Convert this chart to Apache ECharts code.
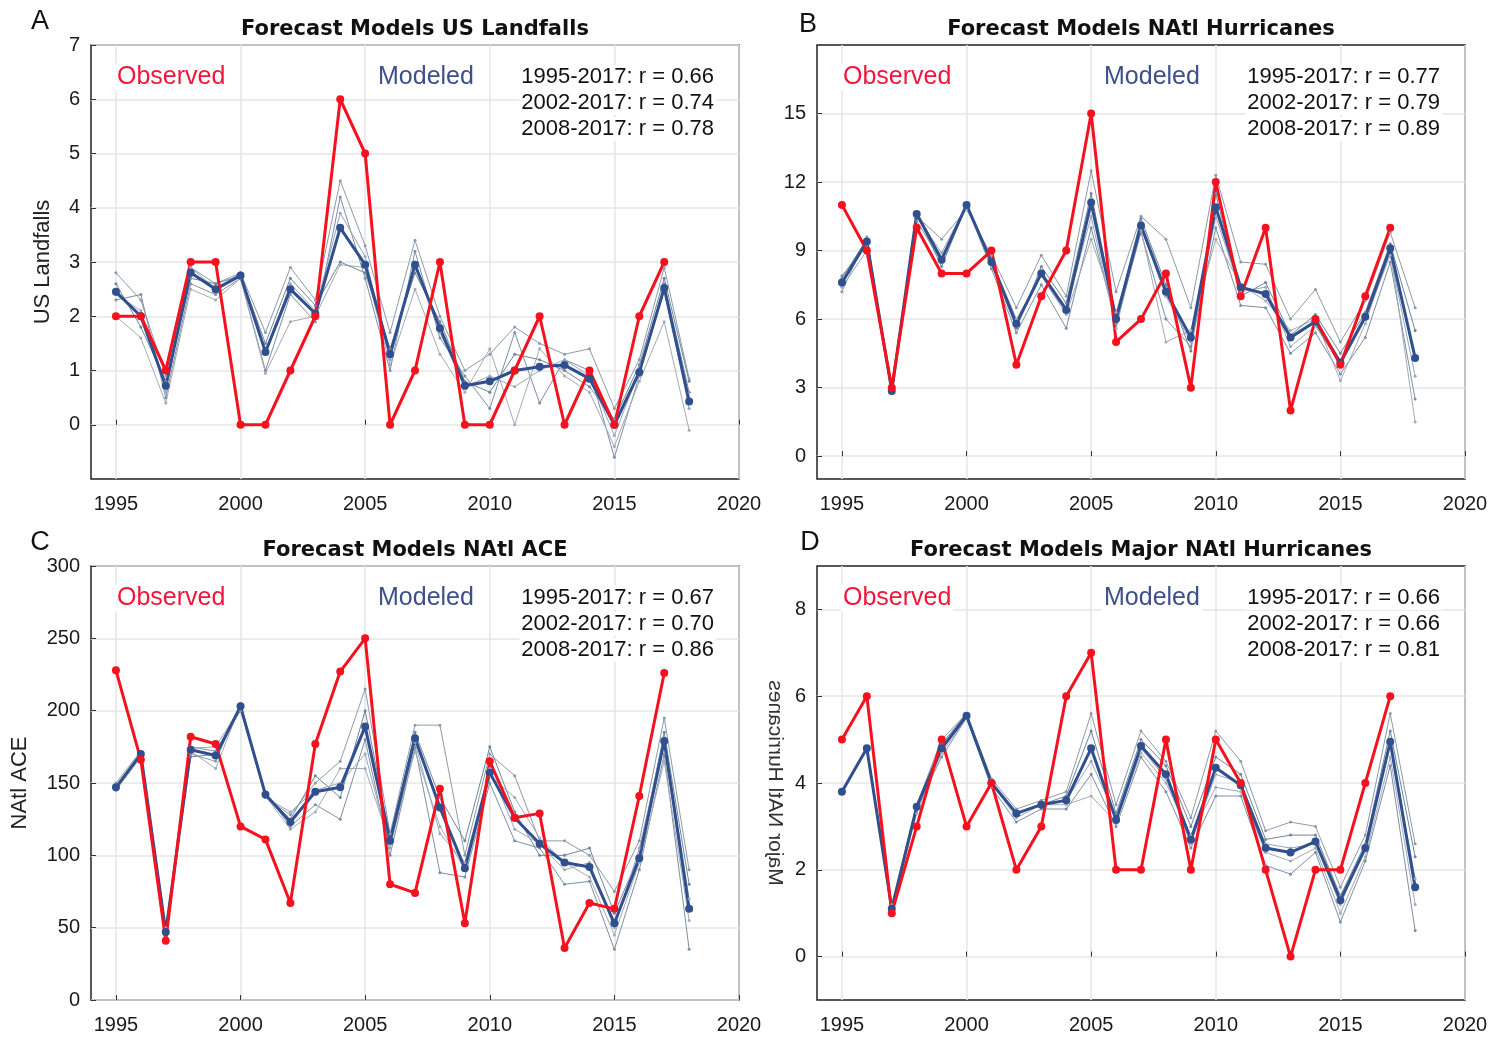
<!DOCTYPE html>
<html>
<head>
<meta charset="utf-8">
<script src="https://cdn.jsdelivr.net/npm/echarts@6/dist/echarts.min.js"></script>
<style>
  html, body { margin: 0; padding: 0; background: #fff; }
  #chart { width: 1507px; height: 1042px; }
</style>
</head>
<body>
<div id="chart"></div>
<script>
// years shared by all four panels (observed stops at 2017, forecast goes to 2018)
const years = [1995, 1996, 1997, 1998, 1999, 2000, 2001, 2002, 2003, 2004, 2005, 2006,
  2007, 2008, 2009, 2010, 2011, 2012, 2013, 2014, 2015, 2016, 2017, 2018];
const xTicks = [1995, 2000, 2005, 2010, 2015, 2020];

// --- A: US landfalls
const obsLandfalls = [2, 2, 1, 3, 3, 0, 0, 1, 2, 6, 5, 0, 1, 3, 0, 0, 1, 2, 0, 1, 0, 2, 3];
const modLandfalls = [2.45, 2.0, 0.72, 2.8, 2.5, 2.75, 1.34, 2.5, 2.05, 3.63, 2.95, 1.3,
  2.95, 1.78, 0.72, 0.8, 1.0, 1.07, 1.1, 0.85, 0.0, 0.97, 2.52, 0.43];
const membersLandfalls = [
  [2.8, 2.3, 0.9, 2.9, 2.6, 2.8, 1.7, 2.9, 2.3, 4.5, 3.3, 1.7, 3.4, 2.0, 1.0, 1.3, 1.8, 1.5, 1.3, 1.4, 0.3, 1.2, 2.9, 0.85],
  [2.3, 2.4, 0.5, 2.6, 2.4, 2.7, 1.0, 2.4, 1.9, 4.2, 2.7, 1.0, 3.2, 1.6, 0.9, 0.3, 1.7, 0.4, 1.2, 1.0, -0.6, 0.9, 2.6, 0.6],
  [2.0, 1.6, 0.4, 2.5, 2.3, 2.7, 0.95, 1.9, 2.0, 2.95, 2.9, 1.1, 2.5, 1.3, 0.6, 1.4, 0.0, 1.4, 0.9, 0.6, -0.4, 0.8, 1.9, -0.1],
  [2.6, 1.8, 0.8, 2.7, 2.6, 2.75, 1.5, 2.7, 2.2, 3.0, 2.8, 1.4, 2.8, 1.9, 0.8, 0.6, 1.3, 1.2, 1.0, 0.7, 0.1, 1.1, 2.7, 0.8],
  [2.4, 2.1, 0.6, 2.9, 2.5, 2.8, 1.3, 2.6, 2.1, 3.9, 3.1, 1.2, 3.0, 1.7, 0.7, 0.9, 0.7, 1.0, 1.2, 0.9, -0.2, 1.0, 2.5, 0.3]
];
const ticksLandfalls = [0, 1, 2, 3, 4, 5, 6, 7];
const rLandfalls = ['1995-2017: r = 0.66', '2002-2017: r = 0.74', '2008-2017: r = 0.78'];

// --- B: North Atlantic hurricanes
const obsHurricanes = [11, 9, 3, 10, 8, 8, 9, 4, 7, 9, 15, 5, 6, 8, 3, 12, 7, 10, 2, 6, 4, 7, 10];
const modHurricanes = [7.6, 9.4, 2.85, 10.6, 8.6, 11.0, 8.5, 5.8, 8.0, 6.4, 11.1, 6.0,
  10.1, 7.2, 5.2, 10.9, 7.4, 7.1, 5.2, 5.9, 4.1, 6.1, 9.1, 4.3];
const membersHurricanes = [
  [7.2, 9.6, 2.9, 10.5, 9.5, 10.8, 8.8, 6.5, 8.8, 7.0, 12.5, 7.2, 10.5, 9.5, 6.5, 12.3, 8.5, 8.4, 6.0, 7.3, 5.0, 6.8, 9.8, 6.5],
  [7.9, 9.2, 2.8, 10.3, 8.5, 11.0, 8.2, 5.4, 7.5, 5.6, 10.0, 5.8, 9.8, 6.0, 4.8, 10.0, 6.6, 6.5, 4.5, 5.4, 3.6, 5.2, 8.5, 2.5],
  [7.5, 9.3, 2.9, 10.7, 8.7, 11.0, 8.6, 6.0, 7.9, 6.2, 9.5, 6.3, 9.9, 5.0, 5.5, 9.5, 7.5, 6.8, 5.5, 6.0, 3.3, 5.8, 9.0, 1.5],
  [7.8, 9.5, 2.8, 10.6, 8.3, 11.0, 8.4, 5.6, 8.3, 6.7, 11.5, 6.1, 10.4, 7.5, 4.6, 11.5, 7.0, 7.6, 5.3, 6.2, 4.5, 6.3, 9.3, 5.5],
  [7.4, 9.0, 2.9, 10.5, 8.9, 11.0, 8.5, 5.7, 8.0, 6.5, 10.5, 5.6, 10.0, 7.0, 5.0, 10.5, 7.2, 7.4, 4.8, 5.7, 4.0, 6.0, 8.8, 3.5]
];
const ticksHurricanes = [0, 3, 6, 9, 12, 15];
const rHurricanes = ['1995-2017: r = 0.77', '2002-2017: r = 0.79', '2008-2017: r = 0.89'];

// --- C: North Atlantic ACE
const obsACE = [228, 166, 41, 182, 177, 120, 111, 67, 177, 227, 250, 80, 74, 146, 53, 165, 126, 129, 36, 67, 63, 141, 226];
const modACE = [147, 170, 47, 173, 169, 203, 142, 123, 144, 147, 189, 110,
  181, 133, 91, 157, 126, 108, 95, 92, 53, 98, 179, 63];
const membersACE = [
  [150, 172, 50, 170, 165, 205, 140, 128, 150, 165, 215, 115, 190, 190, 100, 170, 155, 110, 110, 100, 75, 110, 195, 90],
  [145, 168, 45, 175, 172, 200, 143, 120, 135, 125, 180, 100, 175, 88, 85, 150, 110, 105, 80, 82, 35, 90, 170, 35],
  [148, 170, 48, 172, 160, 204, 141, 118, 130, 160, 160, 108, 172, 120, 90, 155, 140, 112, 95, 85, 45, 95, 165, 55],
  [146, 169, 46, 168, 170, 203, 142, 125, 155, 140, 200, 112, 185, 140, 110, 175, 130, 100, 100, 105, 60, 100, 185, 80],
  [147, 171, 47, 174, 175, 202, 140, 130, 145, 150, 170, 105, 178, 115, 95, 160, 118, 108, 90, 95, 50, 105, 180, 70]
];
const ticksACE = [0, 50, 100, 150, 200, 250, 300];
const rACE = ['1995-2017: r = 0.67', '2002-2017: r = 0.70', '2008-2017: r = 0.86'];

// --- D: major North Atlantic hurricanes
const obsMajor = [5, 6, 1, 3, 5, 3, 4, 2, 3, 6, 7, 2, 2, 5, 2, 5, 4, 2, 0, 2, 2, 4, 6];
const modMajor = [3.8, 4.8, 1.1, 3.45, 4.8, 5.55, 4.0, 3.3, 3.5, 3.6, 4.8, 3.15,
  4.85, 4.2, 2.7, 4.35, 3.95, 2.5, 2.4, 2.65, 1.3, 2.5, 4.95, 1.6];
const membersMajor = [
  [3.8, 4.8, 1.2, 3.5, 5.0, 5.6, 4.1, 3.4, 3.6, 3.8, 5.6, 3.5, 5.2, 4.5, 3.2, 5.2, 4.5, 2.9, 3.1, 3.0, 1.6, 2.8, 5.6, 2.6],
  [3.8, 4.8, 1.0, 3.4, 4.6, 5.5, 3.9, 3.1, 3.4, 3.4, 4.2, 3.0, 4.6, 3.8, 2.5, 3.7, 3.7, 2.1, 1.9, 2.4, 0.8, 2.2, 4.4, 0.6],
  [3.8, 4.8, 1.1, 3.3, 4.7, 5.5, 4.0, 3.2, 3.5, 3.5, 3.7, 3.1, 4.7, 4.0, 2.8, 3.9, 3.8, 2.4, 2.2, 2.5, 1.0, 2.3, 4.6, 1.2],
  [3.8, 4.8, 1.1, 3.5, 4.9, 5.6, 4.0, 3.3, 3.5, 3.7, 5.2, 3.3, 5.0, 4.4, 3.0, 4.6, 4.2, 2.7, 2.8, 2.8, 1.4, 2.6, 5.2, 2.3],
  [3.8, 4.8, 1.1, 3.4, 4.8, 5.5, 4.0, 3.3, 3.5, 3.6, 4.5, 3.2, 4.8, 4.1, 2.6, 4.2, 4.0, 2.6, 2.5, 2.6, 1.2, 2.5, 4.9, 1.8]
];
const ticksMajor = [0, 2, 4, 6, 8];
const rMajor = ['1995-2017: r = 0.66', '2002-2017: r = 0.66', '2008-2017: r = 0.81'];

const panels = [
  { letter: 'A', title: 'Forecast Models US Landfalls', obs: obsLandfalls, mod: modLandfalls, members: membersLandfalls, min: -1, max: 7, ticks: ticksLandfalls, r: rLandfalls, yName: 'US Landfalls', nameGap: 37 },
  { letter: 'B', title: 'Forecast Models NAtl Hurricanes', obs: obsHurricanes, mod: modHurricanes, members: membersHurricanes, min: -1, max: 18, ticks: ticksHurricanes, r: rHurricanes, yName: '', nameGap: 0 },
  { letter: 'C', title: 'Forecast Models NAtl ACE', obs: obsACE, mod: modACE, members: membersACE, min: 0, max: 300, ticks: ticksACE, r: rACE, yName: 'NAtl ACE', nameGap: 60 },
  { letter: 'D', title: 'Forecast Models Major NAtl Hurricanes', obs: obsMajor, mod: modMajor, members: membersMajor, min: -1, max: 9, ticks: ticksMajor, r: rMajor, yName: '', nameGap: 0 }
];

// layout (pixels)
const gridBoxes = [[91, 45], [817, 45], [91, 566], [817, 566]];
const letterPos = [[40, 22], [808, 25], [40, 543], [810, 543]];
const GW = 648, GH = 434;

const FONT = '"Liberation Sans", Arial, sans-serif';
const RED = '#f5121e';
const BLUE = '#2f4f8e';
const memberColors = ['#8e9aab', '#7d8fa6', '#a3aab5', '#6f8799', '#98a6bf'];
const GRIDLINE = '#e6e6e6';

const chart = echarts.init(document.getElementById('chart'), null, { renderer: 'canvas' });

const grid = [], xAxis = [], yAxis = [], series = [], graphic = [];

panels.forEach((p, i) => {
  const [left, top] = gridBoxes[i];
  grid.push({ left, top, width: GW, height: GH, show: true, borderColor: '#222', borderWidth: 1.5, backgroundColor: 'transparent' });

  xAxis.push({
    gridIndex: i, type: 'value', min: 1994, max: 2020,
    axisLine: { show: false },
    axisTick: { show: true, inside: true, length: 5, customValues: xTicks, lineStyle: { color: '#333' } },
    axisLabel: { customValues: xTicks, margin: 15, fontSize: 20, color: '#1a1a1a', fontFamily: FONT, formatter: v => String(v) },
    splitLine: { show: true, lineStyle: { color: GRIDLINE, width: 1.5 } }
  });

  yAxis.push({
    gridIndex: i, type: 'value', min: p.min, max: p.max,
    name: p.yName, nameLocation: 'middle', nameGap: p.nameGap,
    nameTextStyle: { fontSize: 22, color: '#222', fontFamily: FONT },
    axisLine: { show: false },
    axisTick: { show: true, inside: true, length: 5, customValues: p.ticks, lineStyle: { color: '#333' } },
    axisLabel: { customValues: p.ticks, margin: 11, fontSize: 20, color: '#1a1a1a', fontFamily: FONT },
    splitLine: { show: true, lineStyle: { color: GRIDLINE, width: 1.5 } }
  });

  p.members.forEach((m, k) => {
    series.push({
      type: 'line', xAxisIndex: i, yAxisIndex: i, silent: true,
      data: years.map((y, j) => [y, m[j]]),
      symbol: 'circle', symbolSize: 3, showSymbol: true,
      lineStyle: { width: 1, color: memberColors[k] },
      itemStyle: { color: memberColors[k] }
    });
  });

  series.push({
    type: 'line', xAxisIndex: i, yAxisIndex: i, silent: true,
    data: years.map((y, j) => [y, p.mod[j]]),
    symbol: 'circle', symbolSize: 8,
    lineStyle: { width: 3, color: BLUE },
    itemStyle: { color: BLUE }
  });

  series.push({
    type: 'line', xAxisIndex: i, yAxisIndex: i, silent: true,
    data: p.obs.map((v, j) => [years[j], v]),
    symbol: 'circle', symbolSize: 8,
    lineStyle: { width: 3, color: RED },
    itemStyle: { color: RED }
  });

  graphic.push({
    type: 'text', x: letterPos[i][0], y: letterPos[i][1],
    style: { text: p.letter, fontSize: 27, fontFamily: FONT, fill: '#111', align: 'center', verticalAlign: 'middle' }
  });
  graphic.push({
    type: 'text', x: left + GW / 2, y: top - 15,
    style: { text: p.title, fontSize: 21, fontWeight: 'bold', fontFamily: '"DejaVu Sans", sans-serif', fill: '#111', align: 'center', verticalAlign: 'middle' }
  });
  // legend-like labels sit on white boxes, so gridlines stop behind them
  graphic.push({
    type: 'text', x: left + 24, y: top + 32, z: 100,
    style: { text: 'Observed', fontSize: 25, fontFamily: FONT, fill: '#f2163a', align: 'left', verticalAlign: 'middle', backgroundColor: '#fff', padding: [1, 2] }
  });
  graphic.push({
    type: 'text', x: left + 285, y: top + 32, z: 100,
    style: { text: 'Modeled', fontSize: 25, fontFamily: FONT, fill: '#3d4f8c', align: 'left', verticalAlign: 'middle', backgroundColor: '#fff', padding: [1, 2] }
  });
  p.r.forEach((t, k) => {
    graphic.push({
      type: 'text', x: left + 625, y: top + 32 + k * 26, z: 100,
      style: { text: t, fontSize: 22, fontFamily: FONT, fill: '#111', align: 'right', verticalAlign: 'middle', backgroundColor: '#fff', padding: [1, 2] }
    });
  });
});

// mirrored axis name of panel D, as printed in the source figure
graphic.push({
  type: 'text', x: 775, y: 783, rotation: Math.PI / 2, scaleY: -1,
  style: { text: 'Major NAtl Hurricanes', fontSize: 21, fontFamily: FONT, fill: '#333', align: 'center', verticalAlign: 'middle' }
});

chart.setOption({
  backgroundColor: '#fff',
  animation: false,
  grid, xAxis, yAxis, series, graphic
});
</script>
</body>
</html>
